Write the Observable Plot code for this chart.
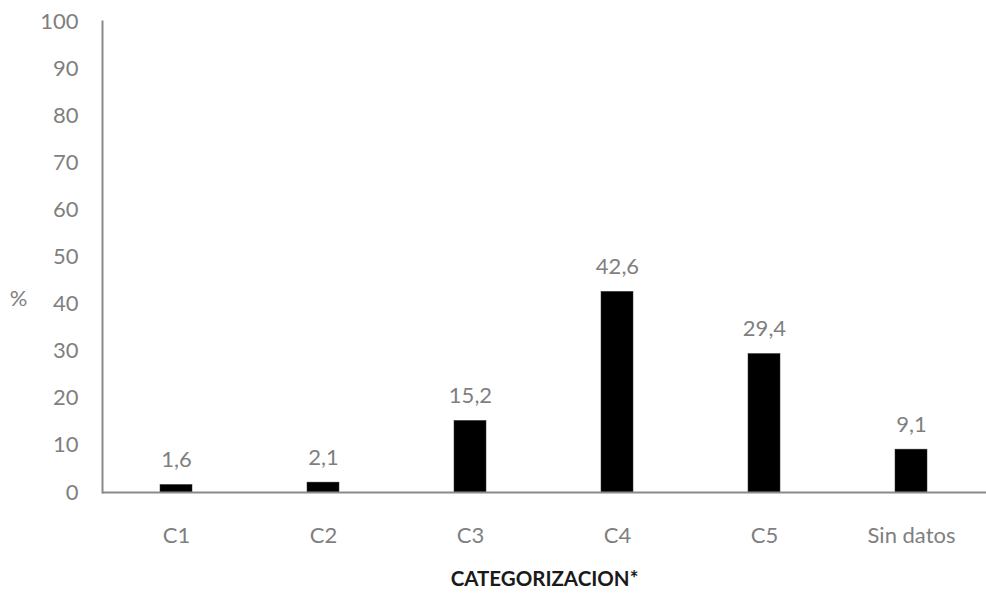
<!DOCTYPE html>
<html>
<head>
<meta charset="utf-8">
<script src="https://cdn.jsdelivr.net/npm/d3@7"></script>
<script src="https://cdn.jsdelivr.net/npm/@observablehq/plot@0.6"></script>
<style>
  html, body { margin: 0; padding: 0; background: #fff; }
  #chart { width: 986px; height: 596px; }
</style>
</head>
<body>
<div id="chart"></div>
<script>
const categories = ["C1", "C2", "C3", "C4", "C5", "Sin datos"];
const values = [1.6, 2.1, 15.2, 42.6, 29.4, 9.1];
const yTicks = [0, 10, 20, 30, 40, 50, 60, 70, 80, 90, 100];
const xTitle = "CATEGORIZACION*";
const yTitle = "%";

const data = categories.map((c, i) => ({ cat: c, value: values[i] }));
const fmt = v => d3.format(".1f")(v).replace(".", ",");

const gray = "#8a8a8a";
const textGray = "#7f7f7f";

const chart = Plot.plot({
  width: 986,
  height: 596,
  marginLeft: 102,
  marginRight: 0,
  marginTop: 21,
  marginBottom: 104,
  style: { fontFamily: "Lato, 'Open Sans', sans-serif", fontSize: "22px", color: textGray, background: "#fff" },
  x: { domain: categories, paddingInner: 0.78, paddingOuter: 0.39, label: null },
  y: { domain: [0, 100], label: null },
  marks: [
    Plot.axisY({ ticks: yTicks, tickSize: 0, tickPadding: 24, label: null, fill: textGray, fontSize: 22 }),
    Plot.axisX({ tickSize: 0, tickPadding: 35, label: null, fill: textGray, fontSize: 22 }),
    Plot.barY(data, { x: "cat", y: "value", fill: "#000", stroke: "#333", strokeWidth: 0.5 }),
    Plot.ruleY([0], { stroke: gray, strokeWidth: 2 }),
    Plot.frame({ anchor: "left", stroke: gray, strokeWidth: 2 }),
    Plot.text(data, { x: "cat", y: "value", text: d => fmt(d.value), dy: -25, fill: textGray, fontSize: 22 }),
    Plot.text([yTitle], { frameAnchor: "left", dx: -84, dy: 42, textAnchor: "middle", fill: textGray, fontSize: 22 }),
    Plot.text([xTitle], { frameAnchor: "bottom", dy: 93, textAnchor: "middle", fill: "#1a1a1a", fontSize: 20.5, fontWeight: "bold" })
  ]
});
document.getElementById("chart").append(chart);
</script>
</body>
</html>
